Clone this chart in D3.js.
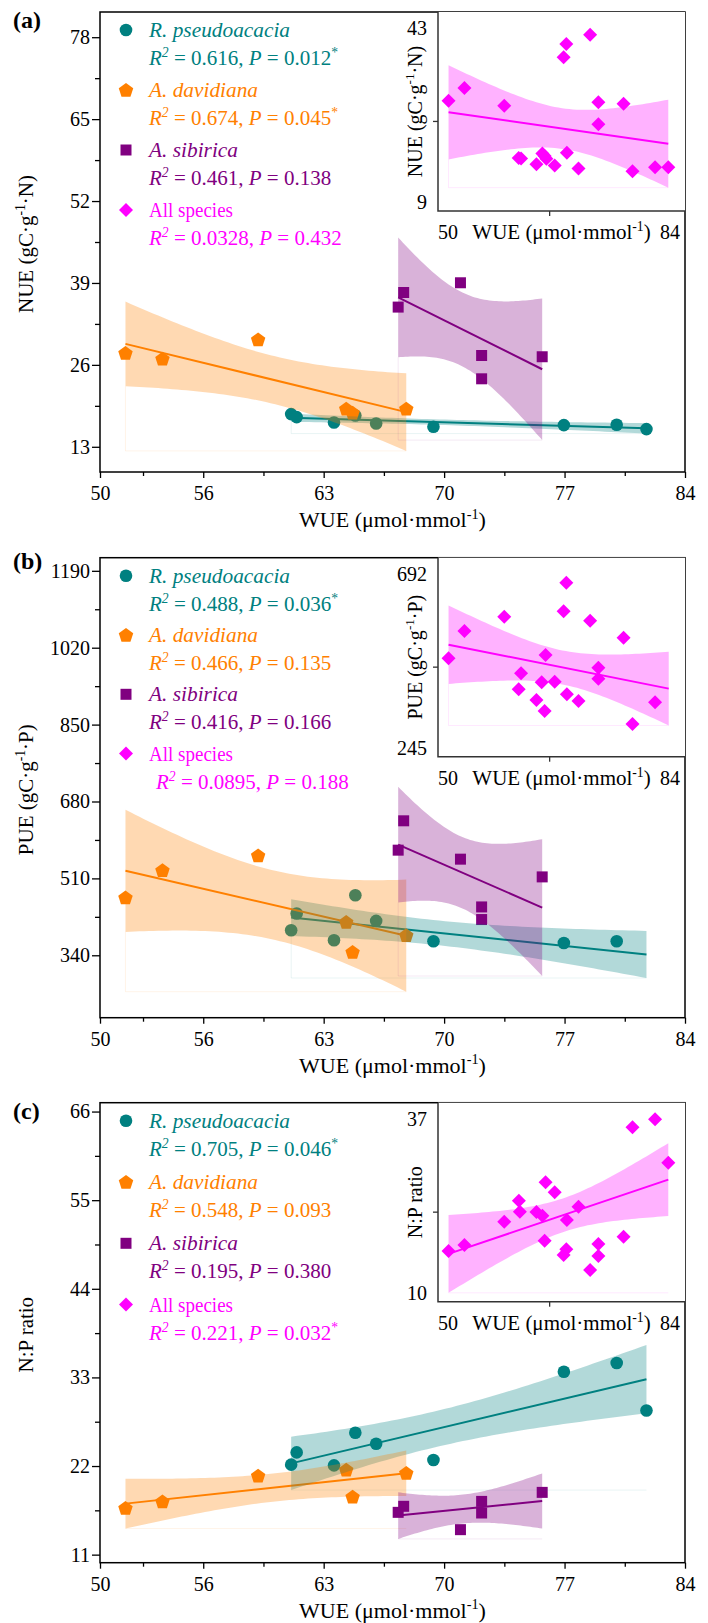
<!DOCTYPE html>
<html>
<head>
<meta charset="utf-8">
<script src="https://cdn.jsdelivr.net/npm/d3@7"></script>
<style>
  body { margin: 0; background: #fff; }
  svg { display: block; font-family: "Liberation Serif", "Times New Roman", serif; }
</style>
</head>
<body>
<svg id="chart" width="708" height="1623"></svg>
<script>
// WUE of each sampled tree, same trees in every panel
const RP_WUE = [61.11, 61.43, 63.60, 64.84, 66.05, 69.38, 76.96, 80.03, 81.76];
const AD_WUE = [51.48, 53.63, 59.19, 64.31, 64.68, 67.80];
const AS_WUE = [67.33, 67.65, 70.95, 72.18, 72.18, 75.70];

const RP_NUE = [18.19, 17.71, 16.86, 17.97, 16.70, 16.17, 16.44, 16.49, 15.81];
const AD_NUE = [27.87, 26.97, 30.03, 19.03, 18.40, 19.03];
const AS_NUE = [35.17, 37.49, 39.03, 27.49, 23.79, 27.29];

const RP_PUE = [395.3, 432.3, 373.2, 472.8, 416.0, 371.0, 367.3, 371.0, 314.5];
const AD_PUE = [467.7, 528.1, 560.6, 413.7, 347.3, 384.3];
const AS_PUE = [572.4, 637.3, 552.5, 446.9, 419.0, 513.3];
// the last R. pseudoacacia PUE value is in the fit but has no marker in the figure
const RP_PUE_UNMARKED = [8];

const RP_NP = [22.17, 23.69, 22.08, 26.14, 24.77, 22.75, 33.70, 34.78, 28.90];
const AD_NP = [16.79, 17.61, 20.80, 21.55, 18.20, 21.14];
const AS_NP = [16.25, 17.00, 14.10, 17.61, 16.17, 18.73];

// inset data (all species pooled)
const ALL_WUE_A = [51.45, 53.64, 59.12, 61.11, 61.43, 63.55, 64.37, 64.68, 64.92, 66.06, 67.29,
                   67.66, 67.74, 69.34, 70.94, 72.08, 72.08, 75.54, 76.77, 79.88, 81.70];
const ALL_NUE = [27.85, 30.01, 26.99, 18.05, 17.95, 17.00, 18.82, 18.40, 17.92, 16.78, 35.29,
                 37.55, 18.94, 16.27, 39.13, 27.56, 23.81, 27.34, 15.81, 16.49, 16.49];

const ALL_WUE_B = [51.45, 53.64, 59.12, 61.11, 61.43, 63.55, 64.27, 64.68, 64.81, 66.06, 67.29,
                   67.66, 67.74, 69.34, 70.94, 72.08, 72.08, 75.54, 76.77, 79.88, 81.76];
const ALL_PUE = [466.0, 527.4, 559.5, 396.4, 432.3, 372.4, 412.1, 347.7, 473.4, 413.5, 571.6,
                 635.8, 385.2, 370.1, 550.5, 444.9, 420.2, 512.3, 318.5, 367.2, 374.0];
const ALL_PUE_UNMARKED = [20];

const ALL_WUE_C = [51.45, 53.64, 59.12, 61.13, 61.27, 63.55, 64.37, 64.68, 64.81, 66.06, 67.29,
                   67.66, 67.74, 69.34, 70.94, 72.08, 72.08, 75.54, 76.77, 79.88, 81.70];
const ALL_NP = [16.88, 17.69, 20.85, 23.70, 22.21, 22.17, 21.67, 18.28, 26.20, 24.84, 16.34,
                17.11, 21.09, 22.89, 14.30, 17.83, 16.20, 18.82, 33.66, 34.75, 28.86];

// legend statistics: R. pseudoacacia, A. davidiana, A. sibirica, All species
const R2_A = ["0.616", "0.674", "0.461", "0.0328"];
const P_A = ["0.012", "0.045", "0.138", "0.432"];
const R2_B = ["0.488", "0.466", "0.416", "0.0895"];
const P_B = ["0.036", "0.135", "0.166", "0.188"];
const R2_C = ["0.705", "0.548", "0.195", "0.221"];
const P_C = ["0.046", "0.093", "0.380", "0.032"];

const X_TICKS = [50, 56, 63, 70, 77, 84];
const X_MINOR = [52.5, 59.5, 66.5, 73.5, 80.5];
const T975 = {4: 2.776, 7: 2.365, 19: 2.093};

const PLOT_L = 100, PLOT_R = 685, PLOT_H = 460;
const INSET_L = 438, INSET_H = 199;

const SPECIES = [
    {name: "R. pseudoacacia", color: "#008080", shape: "circle", italic: true, width: 141},
    {name: "A. davidiana", color: "#ff8000", shape: "pentagon", italic: true, width: 109},
    {name: "A. sibirica", color: "#800080", shape: "square", italic: true, width: 89},
    {name: "All species", color: "#ff00ff", shape: "diamond", italic: false, width: 84},
];
const SP_WUE = [RP_WUE, AD_WUE, AS_WUE];

const panels = [
    {
        label: "(a)", top: 12, labelDy: 16, legendDy: 0, lastIndent: 0,
        yDomain: [9, 82], yTicks: [13, 26, 39, 52, 65, 78],
        yTitle: [{t: "NUE (gC·g"}, {t: "-1", sup: 1}, {t: "·N)"}],
        series: [RP_NUE, AD_NUE, AS_NUE], unmarked: [[], [], []],
        r2: R2_A, p: P_A,
        inset: {x: ALL_WUE_A, y: ALL_NUE, unmarked: [], domain: [9, 43]},
    },
    {
        label: "(b)", top: 557.7, labelDy: 11, legendDy: -0.7, lastIndent: 7,
        yDomain: [202, 1219], yTicks: [340, 510, 680, 850, 1020, 1190],
        yTitle: [{t: "PUE (gC·g"}, {t: "-1", sup: 1}, {t: "·P)"}],
        series: [RP_PUE, AD_PUE, AS_PUE], unmarked: [RP_PUE_UNMARKED, [], []],
        r2: R2_B, p: P_B,
        inset: {x: ALL_WUE_B, y: ALL_PUE, unmarked: ALL_PUE_UNMARKED, domain: [245, 692]},
    },
    {
        label: "(c)", top: 1102.7, labelDy: 16, legendDy: 1.3, lastIndent: 0,
        yDomain: [10, 67.1], yTicks: [11, 22, 33, 44, 55, 66],
        yTitle: [{t: "N:P ratio"}],
        series: [RP_NP, AD_NP, AS_NP], unmarked: [[], [], []],
        r2: R2_C, p: P_C,
        inset: {x: ALL_WUE_C, y: ALL_NP, unmarked: [], domain: [10, 37]},
    },
];

const svg = d3.select("#chart");
const x = d3.scaleLinear().domain([50, 84]).range([PLOT_L, PLOT_R]);

panels.forEach(drawPanel);


function symbolPath(shape) {
    if (shape === "circle") return d3.symbol(d3.symbolCircle, Math.PI * 6.3 * 6.3)();
    if (shape === "square") return d3.symbol(d3.symbolSquare, 11 * 11)();
    if (shape === "diamond") return "M0,-7L7,0L0,7L-7,0Z";
    const pts = d3.range(5).map(function (k) {
        const a = -Math.PI / 2 + k * 2 * Math.PI / 5;
        return [7.6 * Math.cos(a), 7.6 * Math.sin(a) + 0.6];
    });
    return "M" + pts.map((p) => p.join(",")).join("L") + "Z";
}


// least squares line with 95% confidence band of the mean
function fitLine(xs, ys) {
    const n = xs.length;
    const mx = d3.mean(xs), my = d3.mean(ys);
    let sxx = 0, sxy = 0;
    xs.forEach(function (v, i) {
        sxx += (v - mx) ** 2;
        sxy += (v - mx) * (ys[i] - my);
    });
    const b = sxy / sxx;
    const a = my - b * mx;
    let sse = 0;
    xs.forEach((v, i) => (sse += (ys[i] - (a + b * v)) ** 2));
    const s = Math.sqrt(sse / (n - 2));
    const t = T975[n - 2];
    const x0 = d3.min(xs), x1 = d3.max(xs);
    const band = d3.range(61).map(function (k) {
        const xv = x0 + (x1 - x0) * k / 60;
        const half = t * s * Math.sqrt(1 / n + (xv - mx) ** 2 / sxx);
        const yv = a + b * xv;
        return {x: xv, lo: yv - half, hi: yv + half};
    });
    return {a: a, b: b, x0: x0, x1: x1, band: band};
}


function richText(g, px, py, parts, size) {
    const t = g.append("text").attr("x", px).attr("y", py).attr("font-size", size);
    let up = false;
    parts.forEach(function (p) {
        const ts = t.append("tspan").text(p.t);
        if (p.i) ts.attr("font-style", "italic");
        if (p.sup) {
            ts.attr("font-size", size * 0.65);
            if (!up) ts.attr("dy", -size * 0.38);
            up = true;
        } else if (up) {
            ts.attr("dy", size * 0.38);
            up = false;
        }
    });
    return t;
}


function drawFit(sx, sy, xs, ys, unmarked, color, layers) {
    const fit = fitLine(xs, ys);
    const idx = d3.range(xs.length).filter((i) => !unmarked.includes(i));

    layers.marks.selectAll(null)
        .data(idx)
        .enter()
        .append("path")
        .attr("d", symbolPath(color.shape))
        .attr("transform", (i) => `translate(${sx(xs[i])},${sy(ys[i])})`)
        .style("fill", color.color);

    layers.marks.append("line")
        .attr("x1", sx(fit.x0)).attr("y1", sy(fit.a + fit.b * fit.x0))
        .attr("x2", sx(fit.x1)).attr("y2", sy(fit.a + fit.b * fit.x1))
        .style("stroke", color.color)
        .style("stroke-width", 2);

    const area = d3.area()
        .x((d) => sx(d.x))
        .y0((d) => sy(d.lo))
        .y1((d) => sy(d.hi));
    layers.bands.append("path")
        .attr("d", area(fit.band))
        .style("fill", color.color)
        .style("fill-opacity", 0.3);

    // faint edge left by the original shading below the band
    const yMax = d3.max(fit.band, (d) => sy(d.lo));
    const first = fit.band[0], last = fit.band[fit.band.length - 1];
    layers.bands.append("path")
        .attr("d", `M${sx(first.x)},${sy(first.lo)}V${yMax}H${sx(last.x)}`)
        .style("fill", "none")
        .style("stroke", color.color)
        .style("stroke-opacity", 0.09)
        .style("stroke-width", 1);
}


function drawPanel(p) {
    const T = p.top, B = p.top + PLOT_H;
    const g = svg.append("g");
    const y = d3.scaleLinear().domain(p.yDomain).range([B, T]);

    // main plot content, the bands are laid over the marks
    const layers = {marks: g.append("g"), bands: g.append("g")};
    SPECIES.slice(0, 3).forEach(function (sp, k) {
        drawFit(x, y, SP_WUE[k], p.series[k], p.unmarked[k], sp, layers);
    });

    // axes
    const xAxis = g.append("g")
        .attr("transform", `translate(0,${B})`)
        .call(d3.axisBottom(x).tickValues(X_TICKS).tickSize(6).tickSizeOuter(0)
            .tickPadding(8).tickFormat(d3.format("d")));
    g.append("g")
        .attr("transform", `translate(0,${B})`)
        .call(d3.axisBottom(x).tickValues(X_MINOR).tickSize(4).tickSizeOuter(0).tickFormat(""));
    const yAxis = g.append("g")
        .attr("transform", `translate(${PLOT_L},0)`)
        .call(d3.axisLeft(y).tickValues(p.yTicks).tickSize(8).tickSizeOuter(0)
            .tickPadding(2).tickFormat(d3.format("d")));
    g.append("g")
        .attr("transform", `translate(${PLOT_L},0)`)
        .call(d3.axisLeft(y).tickValues(d3.pairs(p.yTicks).map((d) => (d[0] + d[1]) / 2))
            .tickSize(5).tickSizeOuter(0).tickFormat(""));
    g.selectAll(".tick line").style("stroke", "#000").style("stroke-width", 1.3);
    g.selectAll(".domain").remove();
    [xAxis, yAxis].forEach(function (ax) {
        ax.selectAll("text")
            .style("font-size", "20px")
            .style("font-family", "Liberation Serif")
            .style("fill", "#000");
    });

    g.append("rect")
        .attr("x", PLOT_L).attr("y", T)
        .attr("width", PLOT_R - PLOT_L).attr("height", PLOT_H)
        .style("fill", "none")
        .style("stroke", "#000")
        .style("stroke-width", 1.5);

    richText(g, (PLOT_L + PLOT_R) / 2, B + 55,
        [{t: "WUE (μmol·mmol"}, {t: "-1", sup: 1}, {t: ")"}], 22)
        .attr("text-anchor", "middle");
    richText(g, 0, 0, p.yTitle, 21)
        .attr("text-anchor", "middle")
        .attr("transform", `translate(33,${(T + B) / 2 + 2}) rotate(-90)`);

    g.append("text")
        .attr("x", 13).attr("y", T + p.labelDy)
        .style("font-size", "24px")
        .style("font-weight", "bold")
        .text(p.label);

    drawInset(g, p);
    drawLegend(g, p);
}


function drawInset(g, p) {
    const T = p.top, B = p.top + INSET_H;
    const ins = p.inset;
    const sx = d3.scaleLinear().domain([50, 84]).range([INSET_L, PLOT_R]);
    const sy = d3.scaleLinear().domain(ins.domain).range([B, T]);
    const ig = g.append("g");

    ig.append("rect")
        .attr("x", INSET_L).attr("y", T)
        .attr("width", PLOT_R - INSET_L).attr("height", INSET_H)
        .style("fill", "#fff");

    const layers = {marks: ig.append("g"), bands: ig.append("g")};
    drawFit(sx, sy, ins.x, ins.y, ins.unmarked, SPECIES[3], layers);

    ig.append("path")
        .attr("d", `M${INSET_L},${T}V${B}H${PLOT_R}`)
        .style("fill", "none")
        .style("stroke", "#333")
        .style("stroke-width", 1.5);

    // one unlabeled tick on each inset axis
    const xt = sx.range()[0] + 0.452 * (sx.range()[1] - sx.range()[0]);
    const yt = sy(ins.domain[0] + 0.45 * (ins.domain[1] - ins.domain[0]));
    ig.append("line").attr("x1", xt).attr("x2", xt).attr("y1", B).attr("y2", B + 5)
        .style("stroke", "#333").style("stroke-width", 1.3);
    ig.append("line").attr("x1", INSET_L - 5).attr("x2", INSET_L).attr("y1", yt).attr("y2", yt)
        .style("stroke", "#333").style("stroke-width", 1.3);

    ig.append("text")
        .attr("x", INSET_L - 11).attr("y", T + 23)
        .attr("text-anchor", "end")
        .style("font-size", "20px")
        .text(ins.domain[1]);
    ig.append("text")
        .attr("x", INSET_L - 11).attr("y", B - 2)
        .attr("text-anchor", "end")
        .style("font-size", "20px")
        .text(ins.domain[0]);

    ig.append("text")
        .attr("x", INSET_L).attr("y", B + 28)
        .style("font-size", "20px")
        .text(sx.domain()[0]);
    ig.append("text")
        .attr("x", PLOT_R - 5).attr("y", B + 28)
        .attr("text-anchor", "end")
        .style("font-size", "20px")
        .text(sx.domain()[1]);
    richText(ig, (INSET_L + PLOT_R) / 2, B + 28,
        [{t: "WUE (μmol·mmol"}, {t: "-1", sup: 1}, {t: ")"}], 21)
        .attr("text-anchor", "middle");
    richText(ig, 0, 0, p.yTitle, 20)
        .attr("text-anchor", "middle")
        .attr("transform", `translate(422,${(T + B) / 2}) rotate(-90)`);
}


function drawLegend(g, p) {
    const lg = g.append("g");
    SPECIES.forEach(function (sp, k) {
        const cy = p.top + 18 + (60 + p.legendDy) * k;
        lg.append("path")
            .attr("d", symbolPath(sp.shape))
            .attr("transform", `translate(126,${cy})`)
            .style("fill", sp.color);
        lg.append("text")
            .attr("x", 149).attr("y", cy + 7)
            .attr("textLength", sp.width)
            .attr("lengthAdjust", "spacingAndGlyphs")
            .style("font-size", "20px")
            .style("font-style", sp.italic ? "italic" : "normal")
            .style("fill", sp.color)
            .text(sp.name);
        const parts = [
            {t: "R", i: 1}, {t: "2", i: 1, sup: 1},
            {t: " = " + p.r2[k] + ", "}, {t: "P", i: 1}, {t: " = " + p.p[k]},
        ];
        if (+p.p[k] < 0.05) parts.push({t: "*", sup: 1});
        const indent = k === 3 ? p.lastIndent : 0;
        richText(lg, 149 + indent, cy + 35, parts, 21).style("fill", sp.color);
    });
}
</script>
</body>
</html>
